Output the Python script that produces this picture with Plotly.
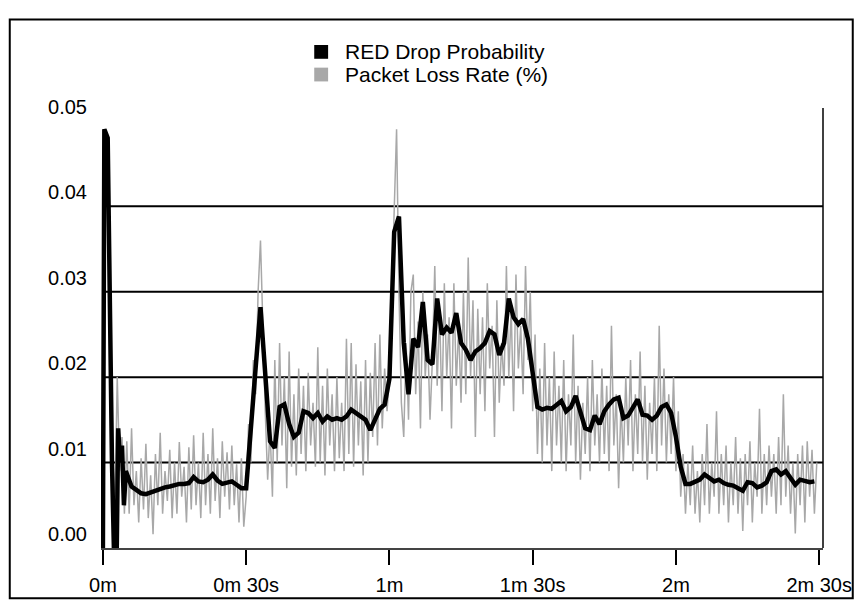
import numpy as np
import plotly.graph_objects as go

# ---------------- data ----------------
tick_vals_s = [0, 30, 60, 90, 120, 150]
tick_text = ["0m", "0m 30s", "1m", "1m 30s", "2m", "2m 30s"]
y_ticks = [0.00, 0.01, 0.02, 0.03, 0.04, 0.05]
y_tick_text = ["0.00", "0.01", "0.02", "0.03", "0.04", "0.05"]
grid_levels = [0.01, 0.02, 0.03, 0.04]
legend_names = ["RED Drop Probability", "Packet Loss Rate (%)"]

# RED drop probability: time (s) and value
red_t_start = [0, 0.05, 0.3, 1.0, 1.5, 1.9, 2.3, 2.9, 3.2, 3.6, 4.0, 4.4, 4.8, 5.4]
red_v_start = [0.0, 0.035, 0.049, 0.048, 0.025, 0.010, 0.0, 0.0, 0.014, 0.010,
               0.012, 0.005, 0.009, 0.0082]
red_t_rest = list(range(6, 150))
red_v_rest = [
    0.0072, 0.0068, 0.0064, 0.0063, 0.0065, 0.0068, 0.0070, 0.0071, 0.0072, 0.0074,   # 6-15
    0.0075, 0.0075, 0.0076, 0.0083, 0.0078, 0.0077, 0.0080, 0.0086, 0.0079, 0.0075,   # 16-25
    0.0077, 0.0078, 0.0074, 0.0070, 0.0070, 0.0150, 0.0212, 0.0282, 0.0200, 0.0125,   # 26-35
    0.0117, 0.0165, 0.0168, 0.0145, 0.0130, 0.0135, 0.0160, 0.0158, 0.0152, 0.0158,   # 36-45
    0.0148, 0.0154, 0.0150, 0.0152, 0.0150, 0.0154, 0.0162, 0.0158, 0.0153, 0.0150,   # 46-55
    0.0138, 0.0152, 0.0163, 0.0168, 0.0198, 0.0370, 0.0388, 0.0240, 0.0180, 0.0245,   # 56-65
    0.0235, 0.0288, 0.0220, 0.0215, 0.0292, 0.0250, 0.0258, 0.0252, 0.0275, 0.0240,   # 66-75
    0.0232, 0.0220, 0.0230, 0.0234, 0.0240, 0.0254, 0.0250, 0.0226, 0.0240, 0.0292,   # 76-85
    0.0270, 0.0262, 0.0268, 0.0245, 0.0205, 0.0165, 0.0162, 0.0164, 0.0163, 0.0168,   # 86-95
    0.0172, 0.0160, 0.0165, 0.0178, 0.0160, 0.0140, 0.0138, 0.0155, 0.0145, 0.0160,   # 96-105
    0.0168, 0.0174, 0.0176, 0.0152, 0.0155, 0.0165, 0.0174, 0.0156, 0.0155, 0.0150,   # 106-115
    0.0155, 0.0165, 0.0168, 0.0158, 0.0130, 0.0095, 0.0075, 0.0075, 0.0078, 0.0080,   # 116-125
    0.0086, 0.0082, 0.0078, 0.0080, 0.0076, 0.0074, 0.0073, 0.0070, 0.0067, 0.0077,   # 126-135
    0.0076, 0.0071, 0.0073, 0.0077, 0.0090, 0.0092, 0.0086, 0.0090, 0.0082, 0.0074,   # 136-145
    0.0080, 0.0079, 0.0077, 0.0078,                                                   # 146-149
]
red_t = red_t_start + red_t_rest
red_v = red_v_start + red_v_rest

# Packet loss rate, sampled every 0.5 s
loss_step = 0.5
loss_v = [
    0.035, 0.049, 0.040, 0.030, 0.012, 0.004, 0.020, 0.009, 0.013, 0.004,
    0.0125, 0.004, 0.0140, 0.005, 0.009, 0.003, 0.0105, 0.0045, 0.0122, 0.0035,
    0.0085, 0.0016, 0.0110, 0.005, 0.0135, 0.004, 0.0090, 0.0055, 0.0115, 0.0035,
    0.0100, 0.004, 0.0124, 0.006, 0.0095, 0.0030, 0.0118, 0.0045, 0.0132, 0.005,
    0.0100, 0.0035, 0.0135, 0.005, 0.0110, 0.004, 0.0140, 0.0055, 0.0105, 0.0035,
    0.0125, 0.006, 0.0112, 0.0045, 0.0120, 0.005, 0.0098, 0.003, 0.0105, 0.0025,
    0.006, 0.0145, 0.010, 0.022, 0.018, 0.030, 0.036, 0.025, 0.016, 0.008,
    0.014, 0.006, 0.022, 0.010, 0.024, 0.012, 0.020, 0.007, 0.023, 0.0095,
    0.018, 0.0085, 0.021, 0.011, 0.019, 0.009, 0.0205, 0.012, 0.017, 0.0095,
    0.0235, 0.010, 0.019, 0.0085, 0.021, 0.012, 0.018, 0.009, 0.020, 0.0105,
    0.017, 0.009, 0.0245, 0.011, 0.024, 0.0095, 0.0215, 0.012, 0.0195, 0.0085,
    0.022, 0.010, 0.0205, 0.013, 0.024, 0.012, 0.025, 0.014, 0.021, 0.016,
    0.020, 0.030, 0.040, 0.049, 0.030, 0.017, 0.013, 0.024, 0.015, 0.030,
    0.032, 0.018, 0.0265, 0.014, 0.030, 0.020, 0.025, 0.015, 0.022, 0.033,
    0.019, 0.028, 0.016, 0.031, 0.020, 0.027, 0.014, 0.031, 0.019, 0.026,
    0.017, 0.030, 0.018, 0.034, 0.020, 0.029, 0.013, 0.028, 0.018, 0.027,
    0.016, 0.031, 0.021, 0.026, 0.013, 0.029, 0.017, 0.024, 0.019, 0.033,
    0.020, 0.028, 0.016, 0.032, 0.021, 0.026, 0.018, 0.033, 0.022, 0.030,
    0.016, 0.025, 0.011, 0.021, 0.010, 0.024, 0.012, 0.020, 0.009, 0.023,
    0.012, 0.019, 0.010, 0.022, 0.009, 0.018, 0.012, 0.025, 0.010, 0.019,
    0.008, 0.017, 0.011, 0.020, 0.009, 0.022, 0.012, 0.018, 0.010, 0.021,
    0.011, 0.019, 0.009, 0.026, 0.012, 0.018, 0.007, 0.017, 0.010, 0.020,
    0.012, 0.022, 0.009, 0.018, 0.011, 0.023, 0.010, 0.019, 0.008, 0.017,
    0.011, 0.020, 0.009, 0.026, 0.012, 0.021, 0.010, 0.018, 0.011, 0.020,
    0.009, 0.016, 0.006, 0.011, 0.004, 0.010, 0.005, 0.012, 0.004, 0.009,
    0.003, 0.011, 0.005, 0.0145, 0.004, 0.010, 0.006, 0.016, 0.004, 0.011,
    0.005, 0.012, 0.003, 0.010, 0.005, 0.013, 0.004, 0.0105, 0.002, 0.011,
    0.005, 0.0125, 0.003, 0.010, 0.006, 0.0163, 0.004, 0.011, 0.005, 0.012,
    0.006, 0.011, 0.004, 0.013, 0.005, 0.018, 0.006, 0.012, 0.004, 0.010,
    0.0017, 0.011, 0.005, 0.012, 0.003, 0.0125, 0.006, 0.0115, 0.004, 0.010,
]
loss_t = [i * loss_step for i in range(len(loss_v))]

# ---------------- figure ----------------
FONT = "Liberation Sans, Arial, sans-serif"
W, H = 864, 608
ML, MR, MT, MB = 101, 35, 108, 53
X_MIN, X_MAX = -0.4, 150.8
Y_MAX = 0.0515
GRAY = "#a8a8a8"

PW, PH = W - ML - MR, H - MT - MB


def px(xpix):
    return (xpix - ML) / PW


def py(ypix):
    return (H - MB - ypix) / PH


fig = go.Figure()

fig.add_trace(go.Scatter(
    x=loss_t, y=loss_v, mode="lines", name=legend_names[1],
    line=dict(color=GRAY, width=1.5),
    showlegend=False, hoverinfo="skip"))
fig.add_trace(go.Scatter(
    x=red_t, y=red_v, mode="lines", name=legend_names[0],
    line=dict(color="black", width=4.5),
    showlegend=False, hoverinfo="skip"))

shapes = []
for g in grid_levels:
    shapes.append(dict(type="line", xref="x", yref="y", x0=0, x1=X_MAX,
                       y0=g, y1=g, line=dict(color="black", width=2),
                       layer="below"))
# right border of plot
shapes.append(dict(type="line", xref="paper", yref="paper", x0=1, x1=1,
                   y0=0, y1=1, line=dict(color="black", width=1.5)))
# outer frame
shapes.append(dict(type="rect", xref="paper", yref="paper",
                   x0=px(9), x1=px(859), y0=py(606), y1=py(18),
                   line=dict(color="black", width=2), fillcolor="rgba(0,0,0,0)"))

# custom legend: swatches + text
legend_rows = [(51, "black"), (74, GRAY)]
annotations = []
for (cy, col), name in zip(legend_rows, legend_names):
    shapes.append(dict(type="rect", xref="paper", yref="paper",
                       x0=px(316), x1=px(330), y0=py(cy + 7), y1=py(cy - 7),
                       line=dict(width=0), fillcolor=col))
    annotations.append(dict(xref="paper", yref="paper", x=px(345), y=py(cy),
                            xanchor="left", yanchor="middle", showarrow=False,
                            text=name, font=dict(size=21, family=FONT, color="black")))

fig.update_layout(
    width=W, height=H,
    margin=dict(l=ML, r=MR, t=MT, b=MB),
    paper_bgcolor="white", plot_bgcolor="white",
    font=dict(family=FONT, size=20, color="black"),
    shapes=shapes, annotations=annotations,
    showlegend=False,
    xaxis=dict(range=[X_MIN, X_MAX], tickmode="array",
               tickvals=tick_vals_s, ticktext=tick_text,
               showgrid=False, zeroline=False,
               showline=True, linecolor="#444", linewidth=1.5,
               ticks="outside", ticklen=15, tickwidth=2, tickcolor="black",
               ticklabelstandoff=3,
               tickfont=dict(size=20, family=FONT)),
    yaxis=dict(range=[0, Y_MAX], tickmode="array",
               tickvals=y_ticks, ticktext=y_tick_text,
               showgrid=False, zeroline=False, showline=False,
               ticks="", ticklabelposition="outside top", ticklabelstandoff=13,
               tickfont=dict(size=20, family=FONT)),
)

fig.write_html("out.html", config={"displayModeBar": False},
               post_script="document.body.style.margin='0';")
